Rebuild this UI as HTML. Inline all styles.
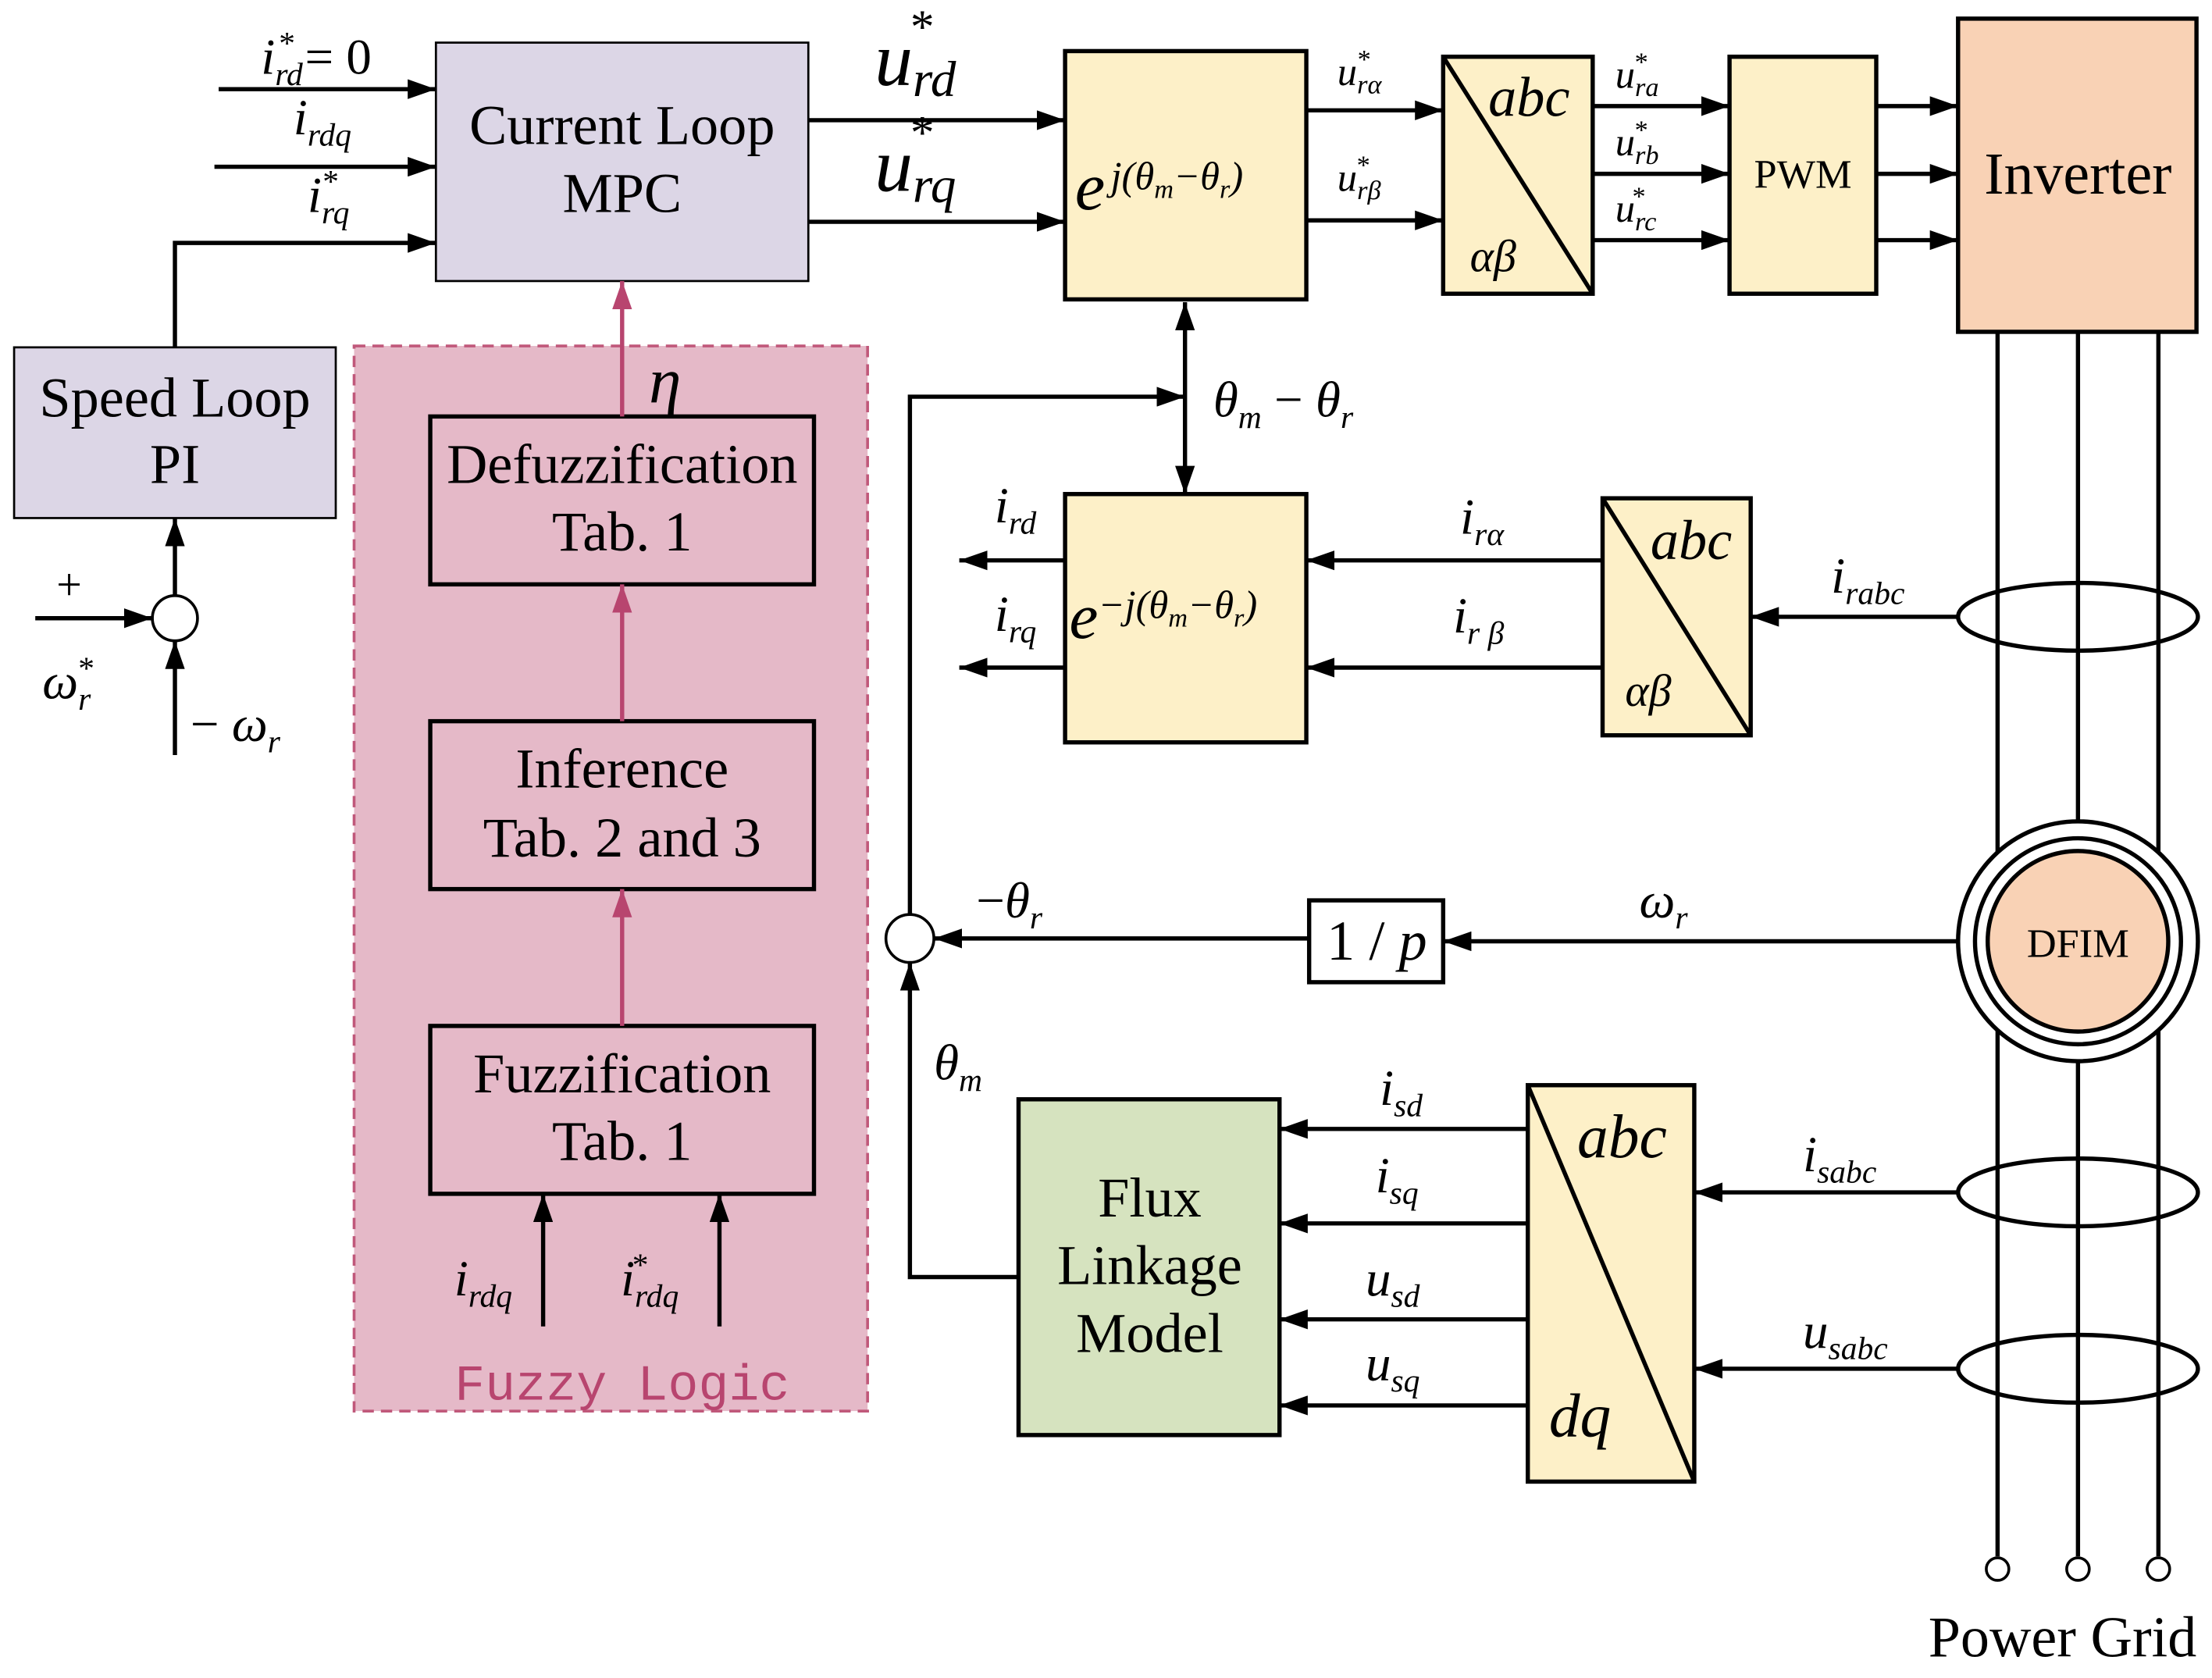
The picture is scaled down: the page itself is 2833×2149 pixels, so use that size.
<!DOCTYPE html>
<html><head><meta charset="utf-8"><style>
html,body{margin:0;padding:0;background:#fff;}
svg{display:block;}
text{font-family:"Liberation Serif",serif;fill:#000;}
.i{font-style:italic;}
</style></head><body>
<svg width="2833" height="2149" viewBox="0 0 1568 1189" xmlns="http://www.w3.org/2000/svg">
<defs>
<marker id="ab" viewBox="0 0 10 10" refX="10" refY="5" markerWidth="20" markerHeight="14" markerUnits="userSpaceOnUse" orient="auto-start-reverse" preserveAspectRatio="none"><path d="M0,0 L10,5 L0,10 z" fill="#000"/></marker>
<marker id="ap" viewBox="0 0 10 10" refX="10" refY="5" markerWidth="20" markerHeight="14" markerUnits="userSpaceOnUse" orient="auto" preserveAspectRatio="none"><path d="M0,0 L10,5 L0,10 z" fill="#b8456f"/></marker>
</defs>
<g stroke="#000" stroke-width="3" fill="none">
<rect x="309" y="30" width="264" height="169" fill="#dcd6e6" stroke-width="1.5"/>
<rect x="10" y="246" width="228" height="121" fill="#dcd6e6" stroke-width="1.5"/>
<rect x="251" y="245" width="364" height="755" fill="#e5b9c8" stroke="#c0587a" stroke-width="2" stroke-dasharray="8,5"/>
<rect x="305" y="295" width="272" height="119" fill="#e5b9c8"/>
<rect x="305" y="511" width="272" height="119" fill="#e5b9c8"/>
<rect x="305" y="727" width="272" height="119" fill="#e5b9c8"/>
<rect x="755" y="36" width="171" height="176" fill="#fdf0c8"/>
<rect x="1023" y="40" width="106" height="168" fill="#fdf0c8"/><line x1="1023" y1="40" x2="1129" y2="208"/>
<rect x="1226" y="40" width="104" height="168" fill="#fdf0c8"/>
<rect x="1388" y="13" width="169" height="222" fill="#f9d2b5"/>
<rect x="755" y="350" width="171" height="176" fill="#fdf0c8"/>
<rect x="1136" y="353" width="105" height="168" fill="#fdf0c8"/><line x1="1136" y1="353" x2="1241" y2="521"/>
<rect x="928" y="638" width="95" height="58" fill="#fff"/>
<rect x="722" y="779" width="185" height="238" fill="#d6e3bf"/>
<rect x="1083" y="769" width="118" height="281" fill="#fdf0c8"/><line x1="1083" y1="769" x2="1201" y2="1050"/>
<line x1="1416" y1="235" x2="1416" y2="1103"/><line x1="1473" y1="235" x2="1473" y2="1103"/><line x1="1530" y1="235" x2="1530" y2="1103"/>
<circle cx="1416" cy="1112" r="8" fill="#fff" stroke-width="2"/><circle cx="1473" cy="1112" r="8" fill="#fff" stroke-width="2"/><circle cx="1530" cy="1112" r="8" fill="#fff" stroke-width="2"/>
<ellipse cx="1473" cy="437" rx="85" ry="24"/><ellipse cx="1473" cy="845" rx="85" ry="24"/><ellipse cx="1473" cy="970" rx="85" ry="24"/>
<circle cx="1473" cy="667" r="85" fill="#fff"/><circle cx="1473" cy="667" r="73" fill="#fff"/><circle cx="1473" cy="667" r="64" fill="#f9d2b5"/>
<circle cx="124" cy="438" r="16" fill="#fff" stroke-width="2"/>
<circle cx="645" cy="665" r="17" fill="#fff" stroke-width="2"/>
</g>
<g stroke="#000" stroke-width="3" fill="none">
<line x1="155" y1="63" x2="309" y2="63" marker-end="url(#ab)"/>
<line x1="152" y1="118" x2="309" y2="118" marker-end="url(#ab)"/>
<polyline points="124,246 124,172 309,172" marker-end="url(#ab)"/>
<line x1="124" y1="422" x2="124" y2="367" marker-end="url(#ab)"/>
<line x1="25" y1="438" x2="108" y2="438" marker-end="url(#ab)"/>
<line x1="124" y1="535" x2="124" y2="454" marker-end="url(#ab)"/>
<line x1="573" y1="85" x2="755" y2="85" marker-end="url(#ab)"/>
<line x1="573" y1="157" x2="755" y2="157" marker-end="url(#ab)"/>
<line x1="926" y1="78" x2="1023" y2="78" marker-end="url(#ab)"/>
<line x1="926" y1="156" x2="1023" y2="156" marker-end="url(#ab)"/>
<line x1="1129" y1="75" x2="1226" y2="75" marker-end="url(#ab)"/>
<line x1="1129" y1="123" x2="1226" y2="123" marker-end="url(#ab)"/>
<line x1="1129" y1="170" x2="1226" y2="170" marker-end="url(#ab)"/>
<line x1="1330" y1="75" x2="1388" y2="75" marker-end="url(#ab)"/>
<line x1="1330" y1="123" x2="1388" y2="123" marker-end="url(#ab)"/>
<line x1="1330" y1="170" x2="1388" y2="170" marker-end="url(#ab)"/>
<line x1="840" y1="214" x2="840" y2="350" marker-start="url(#ab)" marker-end="url(#ab)"/>
<polyline points="645,648 645,281 840,281" marker-end="url(#ab)"/>
<line x1="755" y1="397" x2="680" y2="397" marker-end="url(#ab)"/>
<line x1="755" y1="473" x2="680" y2="473" marker-end="url(#ab)"/>
<line x1="1136" y1="397" x2="926" y2="397" marker-end="url(#ab)"/>
<line x1="1136" y1="473" x2="926" y2="473" marker-end="url(#ab)"/>
<line x1="1388" y1="437" x2="1241" y2="437" marker-end="url(#ab)"/>
<line x1="1388" y1="667" x2="1023" y2="667" marker-end="url(#ab)"/>
<line x1="928" y1="665" x2="662" y2="665" marker-end="url(#ab)"/>
<polyline points="722,905 645,905 645,682" marker-end="url(#ab)"/>
<line x1="1083" y1="800" x2="907" y2="800" marker-end="url(#ab)"/>
<line x1="1083" y1="867" x2="907" y2="867" marker-end="url(#ab)"/>
<line x1="1083" y1="935" x2="907" y2="935" marker-end="url(#ab)"/>
<line x1="1083" y1="996" x2="907" y2="996" marker-end="url(#ab)"/>
<line x1="1388" y1="845" x2="1201" y2="845" marker-end="url(#ab)"/>
<line x1="1388" y1="970" x2="1201" y2="970" marker-end="url(#ab)"/>
<line x1="385" y1="940" x2="385" y2="846" marker-end="url(#ab)"/>
<line x1="510" y1="940" x2="510" y2="846" marker-end="url(#ab)"/>
</g>
<g stroke="#b8456f" stroke-width="3">
<line x1="441" y1="295" x2="441" y2="199" marker-end="url(#ap)"/>
<line x1="441" y1="511" x2="441" y2="414" marker-end="url(#ap)"/>
<line x1="441" y1="727" x2="441" y2="630" marker-end="url(#ap)"/>
</g>
<g font-size="40" text-anchor="middle">
<text x="441" y="102">Current Loop</text><text x="441" y="150">MPC</text>
<text x="124" y="295">Speed Loop</text><text x="124" y="342">PI</text>
<text x="441" y="342">Defuzzification</text><text x="441" y="390">Tab. 1</text>
<text x="441" y="558">Inference</text><text x="441" y="607">Tab. 2 and 3</text>
<text x="441" y="774">Fuzzification</text><text x="441" y="822">Tab. 1</text>
<text x="1473" y="137" font-size="42">Inverter</text>
<text x="815" y="862">Flux</text><text x="815" y="910">Linkage</text><text x="815" y="958">Model</text>
<text x="1462" y="1174" font-size="41">Power Grid</text>
<text x="976" y="680">1 / <tspan class="i">p</tspan></text>
</g>
<text x="1278" y="133" font-size="29" text-anchor="middle">PWM</text>
<text x="1473" y="678" font-size="29" text-anchor="middle">DFIM</text>
<text x="441" y="992" font-size="36" text-anchor="middle" style="font-family:'Liberation Mono',monospace;fill:#b8456f">Fuzzy Logic</text>
<g class="i" font-size="36">
<text x="460" y="285" font-size="46">η</text>
<text x="185" y="52">i<tspan font-size="23" dy="8">rd</tspan><tspan font-size="23" dx="-18" dy="-22">*</tspan><tspan font-style="normal" dy="14" dx="8">= 0</tspan></text>
<text x="208" y="95">i<tspan font-size="23" dy="8">rdq</tspan></text>
<text x="218" y="150">i<tspan font-size="23" dy="8">rq</tspan><tspan font-size="23" dx="-20" dy="-22">*</tspan></text>
<text x="30" y="495">ω<tspan font-size="23" dy="8">r</tspan><tspan font-size="23" dx="-10" dy="-22">*</tspan></text>
<text x="40" y="425" font-style="normal" font-size="32">+</text>
<text x="135" y="525"><tspan font-style="normal">− </tspan>ω<tspan font-size="23" dy="8">r</tspan></text>
<text x="620" y="60" font-size="54">u<tspan font-size="36" dy="8">rd</tspan><tspan font-size="34" dx="-34" dy="-38">*</tspan></text>
<text x="620" y="135" font-size="54">u<tspan font-size="36" dy="8">rq</tspan><tspan font-size="34" dx="-34" dy="-38">*</tspan></text>
<text x="762" y="148" font-size="48">e<tspan font-size="28" dy="-14" dx="4">j(θ<tspan font-size="19" dy="6">m</tspan><tspan dy="-6">−θ</tspan><tspan font-size="19" dy="6">r</tspan><tspan dy="-6">)</tspan></tspan></text>
<text x="758" y="452" font-size="46">e<tspan font-size="28" dy="-14">−j(θ<tspan font-size="19" dy="6">m</tspan><tspan dy="-6">−θ</tspan><tspan font-size="19" dy="6">r</tspan><tspan dy="-6">)</tspan></tspan></text>
<text x="948" y="60" font-size="28">u<tspan font-size="19" dy="6">rα</tspan><tspan font-size="19" dx="-18" dy="-18">*</tspan></text>
<text x="948" y="135" font-size="28">u<tspan font-size="19" dy="6">rβ</tspan><tspan font-size="19" dx="-18" dy="-18">*</tspan></text>
<text x="1145" y="62" font-size="28">u<tspan font-size="19" dy="6">ra</tspan><tspan font-size="19" dx="-18" dy="-18">*</tspan></text>
<text x="1145" y="110" font-size="28">u<tspan font-size="19" dy="6">rb</tspan><tspan font-size="19" dx="-18" dy="-18">*</tspan></text>
<text x="1145" y="157" font-size="28">u<tspan font-size="19" dy="6">rc</tspan><tspan font-size="19" dx="-18" dy="-18">*</tspan></text>
<text x="1055" y="82" font-size="40">abc</text><text x="1042" y="192" font-size="32">αβ</text>
<text x="1170" y="396" font-size="40">abc</text><text x="1152" y="500" font-size="32">αβ</text>
<text x="1118" y="820" font-size="44">abc</text><text x="1098" y="1018" font-size="44">dq</text>
<text x="860" y="295">θ<tspan font-size="23" dy="8">m</tspan><tspan font-style="normal" dy="-8"> − </tspan>θ<tspan font-size="23" dy="8">r</tspan></text>
<text x="705" y="370">i<tspan font-size="23" dy="8">rd</tspan></text>
<text x="705" y="447">i<tspan font-size="23" dy="8">rq</tspan></text>
<text x="1035" y="378">i<tspan font-size="23" dy="8">rα</tspan></text>
<text x="1030" y="448">i<tspan font-size="23" dy="8">r β</tspan></text>
<text x="1298" y="420">i<tspan font-size="23" dy="8">rabc</tspan></text>
<text x="692" y="650"><tspan font-style="normal">−</tspan>θ<tspan font-size="23" dy="8">r</tspan></text>
<text x="1162" y="650">ω<tspan font-size="23" dy="8">r</tspan></text>
<text x="662" y="765">θ<tspan font-size="23" dy="8">m</tspan></text>
<text x="978" y="783">i<tspan font-size="23" dy="8">sd</tspan></text>
<text x="975" y="845">i<tspan font-size="23" dy="8">sq</tspan></text>
<text x="968" y="918">u<tspan font-size="23" dy="8">sd</tspan></text>
<text x="968" y="978">u<tspan font-size="23" dy="8">sq</tspan></text>
<text x="1278" y="830">i<tspan font-size="23" dy="8">sabc</tspan></text>
<text x="1278" y="955">u<tspan font-size="23" dy="8">sabc</tspan></text>
<text x="322" y="918">i<tspan font-size="23" dy="8">rdq</tspan></text>
<text x="440" y="918">i<tspan font-size="23" dy="8">rdq</tspan><tspan font-size="23" dx="-34" dy="-22">*</tspan></text>
</g>
</svg>
</body></html>
